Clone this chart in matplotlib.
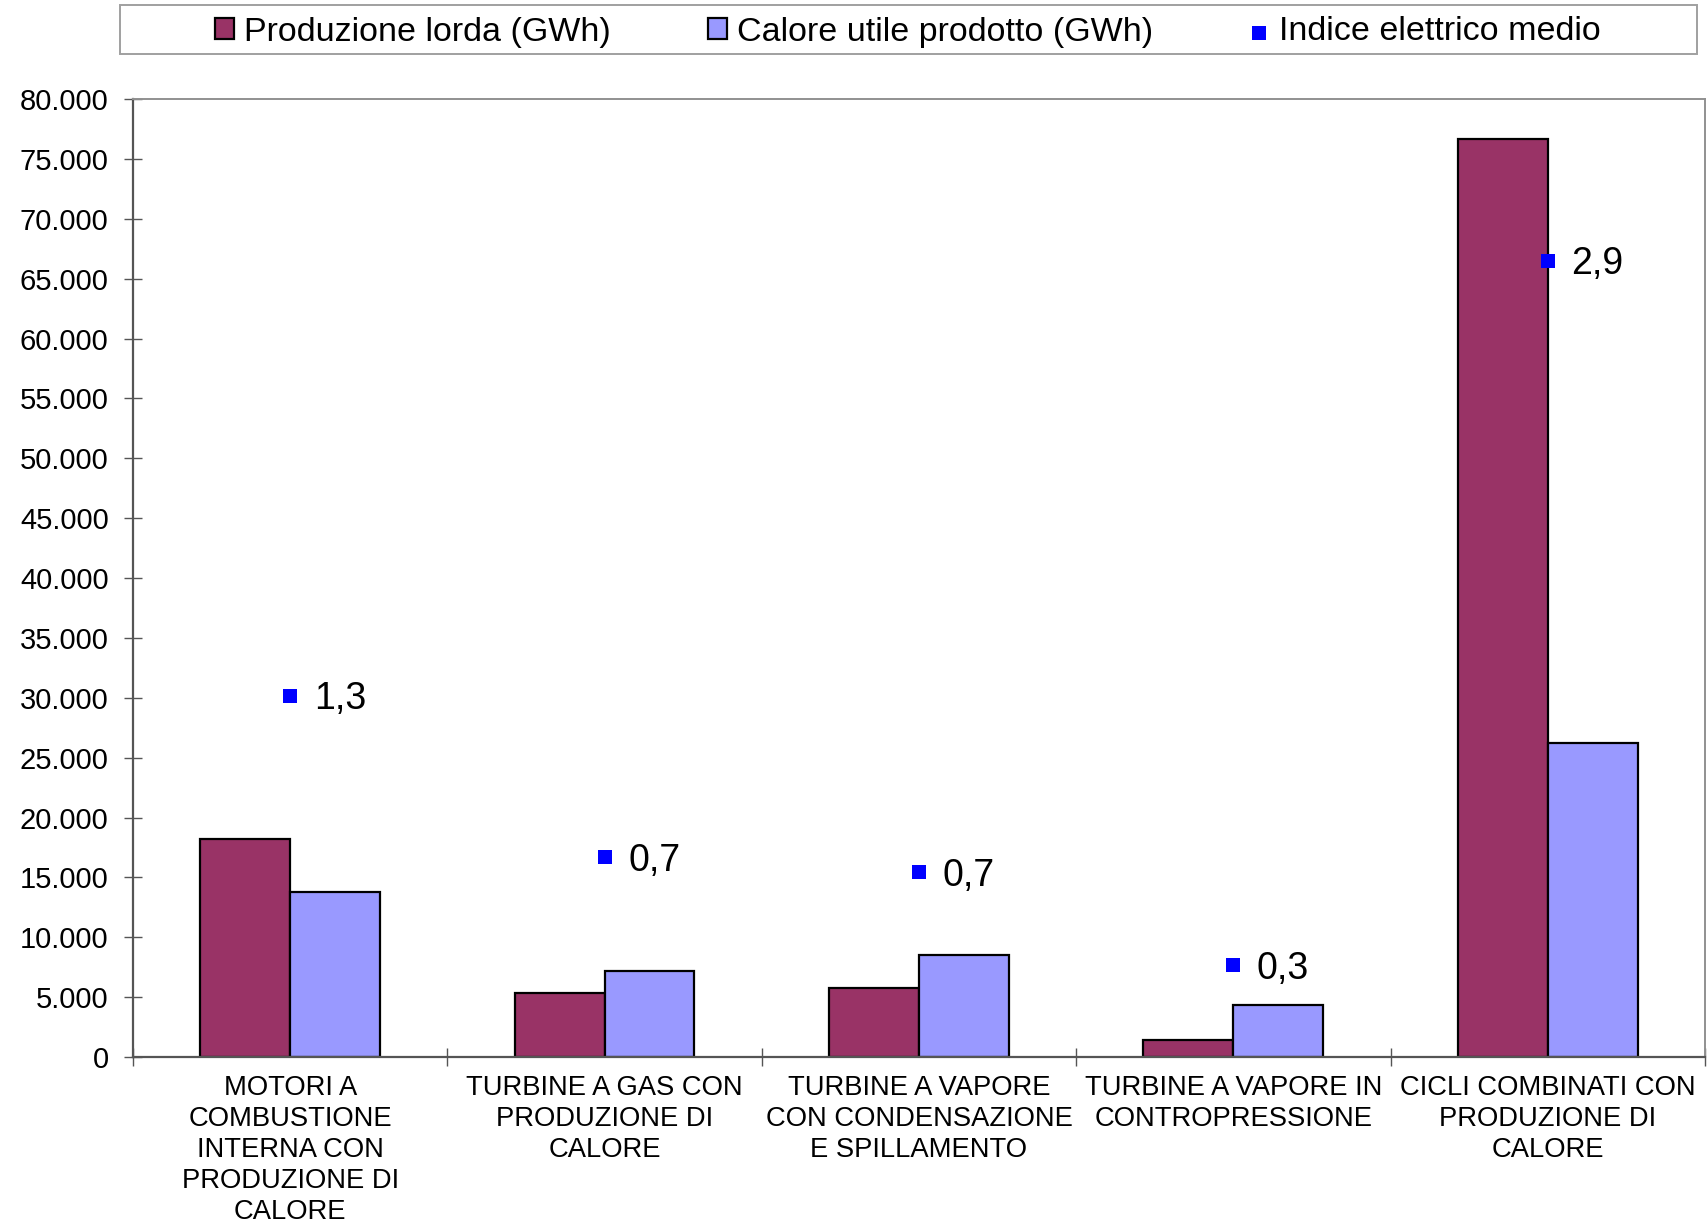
import numpy as np
import matplotlib.pyplot as plt
from matplotlib.ticker import FuncFormatter, FixedLocator
from matplotlib.patches import Rectangle

# Dati
categorie = [
    "MOTORI A\nCOMBUSTIONE\nINTERNA CON\nPRODUZIONE DI\nCALORE",
    "TURBINE A GAS CON\nPRODUZIONE DI\nCALORE",
    "TURBINE A VAPORE\nCON CONDENSAZIONE\nE SPILLAMENTO",
    "TURBINE A VAPORE IN\nCONTROPRESSIONE",
    "CICLI COMBINATI CON\nPRODUZIONE DI\nCALORE",
]
produzione_lorda = [18200, 5350, 5800, 1450, 76700]
calore_utile = [13800, 7200, 8550, 4350, 26200]
indice_elettrico = [1.32, 0.73, 0.675, 0.335, 2.91]

col_prod = "#993366"
col_cal = "#9999FF"
col_ind = "#0000FF"

plt.rcParams.update({
    "font.family": ["Liberation Sans", "DejaVu Sans"],
    "text.color": "black",
})

fig = plt.figure(figsize=(17.07, 12.26), dpi=100)
ax = fig.add_axes([0.0779, 0.1378, 0.9209, 0.7814])

x = np.arange(len(categorie))
w = 0.286

b1 = ax.bar(x - w / 2, produzione_lorda, w, color=col_prod, edgecolor="black",
            linewidth=1.6, label="Produzione lorda (GWh)", zorder=2)
b2 = ax.bar(x + w / 2, calore_utile, w, color=col_cal, edgecolor="black",
            linewidth=1.6, label="Calore utile prodotto (GWh)", zorder=2)

ax.set_xlim(-0.5, len(categorie) - 0.5)
ax.set_ylim(0, 80000)
ax.set_yticks(np.arange(0, 80001, 5000))
ax.yaxis.set_major_formatter(FuncFormatter(lambda v, p: f"{int(v):,}".replace(",", ".")))
ax.tick_params(axis="y", direction="inout", length=13, width=1.0, color="#555555",
               labelsize=21, pad=11)

# tacche ai confini delle categorie, etichette al centro
ax.xaxis.set_major_locator(FixedLocator(np.arange(-0.5, len(categorie), 1.0)))
ax.xaxis.set_major_formatter(FuncFormatter(lambda v, p: ""))
ax.xaxis.set_minor_locator(FixedLocator(x))
ax.set_xticklabels(categorie, minor=True, fontsize=19.7, linespacing=1.25)
ax.tick_params(axis="x", which="major", direction="inout", length=13, width=1.0,
               color="#555555")
ax.tick_params(axis="x", which="minor", length=0, pad=13)

for s in ["left", "bottom"]:
    ax.spines[s].set_color("#555555")
    ax.spines[s].set_linewidth(1.6)
for s in ["top", "right"]:
    ax.spines[s].set_color("#909090")
    ax.spines[s].set_linewidth(1.4)

# Indice elettrico medio su asse secondario (nascosto)
ax2 = ax.twinx()
ax2.set_ylim(0, 3.5)
ax2.set_axis_off()
pts = ax2.scatter(x, indice_elettrico, marker="s", s=105, color=col_ind,
                  linewidths=0, label="Indice elettrico medio", zorder=3)
for xi, v in zip(x, indice_elettrico):
    ax2.annotate(f"{v:.1f}".replace(".", ","), (xi, v), xytext=(17, -2.5),
                 textcoords="offset points", va="center", ha="left", fontsize=27)

# Legenda in alto con riquadro
fig.patches.append(Rectangle((120 / 1707, 1 - 54 / 1226), (1697 - 120) / 1707, 49 / 1226,
                             transform=fig.transFigure, fill=False,
                             edgecolor="#a0a0a0", linewidth=1.4))
fig.legend(handles=[b1, b2, pts], loc="center",
           bbox_to_anchor=(908 / 1707, 1 - 32 / 1226), ncol=3, frameon=False,
           fontsize=24.5, handlelength=0.55, handleheight=0.55, handletextpad=0.3,
           columnspacing=2.85, markerscale=1.0)

plt.savefig("out.png", dpi=100)
